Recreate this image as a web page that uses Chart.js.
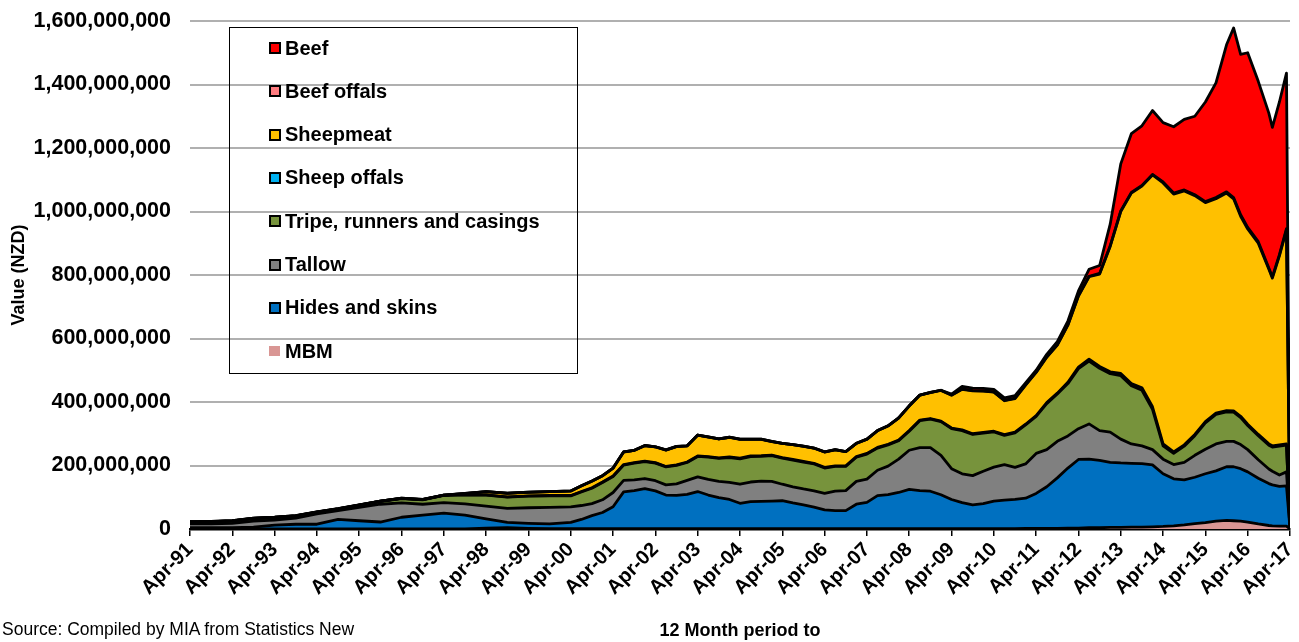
<!DOCTYPE html>
<html>
<head>
<meta charset="utf-8">
<script src="https://cdn.jsdelivr.net/npm/chart.js@4.4.1/dist/chart.umd.min.js"></script>
<style>
html, body { margin: 0; padding: 0; background: #fff; }
#wrap { position: relative; width: 1299px; height: 642px; }
#legend { position: absolute; left: 229px; top: 27px; width: 347px; height: 345px; border: 1px solid #000;
          font: bold 20px "Liberation Sans", Arial, sans-serif; color: #000; }
.item { position: absolute; left: 39px; height: 24px; display: flex; align-items: center; white-space: nowrap; }
.box { width: 8px; height: 8px; border: 2px solid #000; margin-right: 4px; }
#source { position: absolute; left: 2px; top: 619px; font: 17.5px "Liberation Sans", Arial, sans-serif; color: #000; }
</style>
</head>
<body>
<div id="wrap">
  <canvas id="grafico" width="1299" height="642"></canvas>
  <div id="legend"></div>
  <div id="source">Source: Compiled by MIA from Statistics New</div>
</div>
<script>
// months counted from Apr-91 (12 month rolling totals, NZD millions)
const monthsSinceApr91 = [
  0, 6, 12, 18, 24, 30, 36, 42, 48, 54, 60, 66, 72, 78, 84, 90, 96, 102, 108,
  111, 114, 117, 120, 123, 126, 129, 132, 135, 138,
  141, 144, 147, 150, 153, 156, 159, 162, 165, 168,
  171, 174, 177, 180, 183, 186, 189, 192, 195, 198,
  201, 204, 207, 210, 213, 216, 219, 222, 225, 228,
  231, 234, 237, 240, 243, 246, 249, 252, 255, 258,
  261, 264, 267, 270, 273, 276, 279, 282, 285, 288,
  291, 294, 296, 298, 300, 303, 306, 307, 309, 311, 312
];

const yearTicks = ["Apr-91", "Apr-92", "Apr-93", "Apr-94", "Apr-95", "Apr-96", "Apr-97", "Apr-98", "Apr-99",
  "Apr-00", "Apr-01", "Apr-02", "Apr-03", "Apr-04", "Apr-05", "Apr-06", "Apr-07", "Apr-08", "Apr-09",
  "Apr-10", "Apr-11", "Apr-12", "Apr-13", "Apr-14", "Apr-15", "Apr-16", "Apr-17"];

const mbm = [
  0.5, 0.5, 0.5, 0.5, 0.5, 0.5, 0.5, 0.5, 0.5, 0.5, 0.5, 0.5, 0.5, 0.5, 3, 4, 2, 1, 1,
  1, 1, 1, 1, 1, 1, 1, 1, 1, 1,
  1, 1, 1, 1, 1, 1, 1, 1, 1, 1,
  1, 1, 1, 1, 1, 1, 1, 1, 1, 1,
  1, 1, 1, 1, 1, 1, 1, 1, 1, 1,
  1, 1, 1.5, 2, 2, 2, 3, 3, 4, 4,
  5, 5, 6, 6, 7, 8, 10, 13, 17, 20,
  25, 27, 26, 25, 22, 16, 11, 10, 9, 9, 0
];
const hidesSkins = [
  3.5, 3.5, 3.5, 5.5, 11.5, 14.5, 14.5, 29.5, 25.5, 21.5, 36.5, 43.5, 49.5, 43.5, 29, 17, 16, 15, 20,
  29, 41, 51, 69, 116, 120, 126, 119, 106, 105,
  108, 117, 106, 98, 92, 80, 85, 86, 87, 88,
  81, 75, 68, 59, 57, 57, 77, 83, 104, 107,
  114, 124, 120, 118, 107, 92, 82, 75, 79, 87,
  90, 92, 95.5, 110, 131, 159, 189, 216, 216, 212,
  205, 203, 201, 200, 195, 166, 148, 142, 146, 154,
  158, 169, 170, 165, 158, 144, 132, 129, 125, 127, 2
];
const tallow = [
  12, 12, 14, 19, 16, 19, 33, 28, 42, 56, 45, 34, 33, 35, 40, 44, 49, 52, 49,
  44, 38, 40, 45, 36, 34, 32, 32, 32, 36,
  44, 46, 49, 51, 54, 60, 62, 64, 62, 52,
  51, 50, 51, 52, 61, 63, 72, 73, 80, 90,
  105, 123, 135, 137, 124, 97, 91, 92, 102, 107,
  112, 101, 108, 126, 117, 115, 101, 97, 111, 94,
  95, 75, 61, 56, 48, 46, 45, 55, 69, 77,
  85, 80, 80, 76, 70, 58, 46, 43, 36, 44, 1
];
const tripe = [
  5.5, 6.5, 6.5, 7.5, 7.5, 6.5, 4.5, 4.5, 6.5, 8.5, 13.5, 13.5, 22.5, 28.5, 34.5, 35.5, 36.5, 36.5, 34.5,
  42.5, 48.5, 54.5, 50.5, 48.5, 52.5, 53.5, 55.5, 56.5, 58.5,
  56.5, 64.5, 70.5, 72.5, 78, 80, 80, 78, 81, 82,
  84, 85, 85, 80, 78, 76, 76, 79, 70, 67,
  58, 60, 85, 90, 106, 126, 136, 130, 120, 111,
  92, 109, 123, 117, 145, 149, 165, 189, 198, 196,
  184, 200, 183, 175, 127, 42, 35, 51, 62, 83,
  93, 93, 92, 85, 76, 76, 75, 76, 91, 84, 1
];
const sheepOffals = [
  1, 1, 1, 1, 1, 1, 1, 1, 1, 1, 1, 1, 1, 1, 1, 1, 1, 1, 1,
  1.5, 1.5, 1.5, 1.5, 1.5, 1.5, 1.5, 1.5, 1.5, 1.5,
  1.5, 1.5, 1.5, 1.5, 2, 2, 2, 2, 2, 2,
  2, 2, 2, 2, 2, 2, 2, 2, 2, 2,
  2, 2, 2, 2, 2, 2, 2, 2, 2, 2,
  2, 2, 2, 2, 3, 3, 4, 5, 6, 6,
  6, 7, 7, 8, 8, 6, 5, 4, 4, 4,
  4, 4, 4, 4, 4, 4, 4, 4, 4, 4, 0
];
const sheepmeat = [
  0, 0, 0, 0, 0, 0, 0, 0, 0, 0, 0, 0, 0, 3, 10, 11, 11, 12, 14,
  17.5, 20.5, 19.5, 24.5, 39.5, 38.5, 48.5, 49.5, 51.5, 57.5,
  50.5, 65.5, 61.5, 59.5, 61.5, 59.5, 52.5, 51.5, 42.5, 44.5,
  46.5, 47.5, 47.5, 48.5, 50.5, 44.5, 41.5, 44.5, 52.5, 57.5,
  69.5, 77.5, 78.5, 81.5, 96.5, 103.5, 128, 135, 130, 123,
  107, 106, 123, 136, 143, 151, 180, 224, 259.5, 291,
  395, 510, 600, 635, 730, 822, 812, 800, 752, 690,
  675, 685, 668, 630, 615, 602, 550, 528, 595, 674, 2
];
const beefOffals = [
  0.5, 0.5, 0.5, 0.5, 0.5, 0.5, 0.5, 0.5, 0.5, 0.5, 0.5, 0.5, 0.5, 0.5, 0.5, 0.5, 0.5, 0.5, 0.5,
  0.5, 0.5, 0.5, 0.5, 0.5, 0.5, 0.5, 0.5, 0.5, 0.5,
  0.5, 0.5, 0.5, 0.5, 0.5, 0.5, 0.5, 0.5, 0.5, 0.5,
  0.5, 0.5, 0.5, 0.5, 0.5, 0.5, 0.5, 0.5, 0.5, 0.5,
  0.5, 0.5, 0.5, 0.5, 0.5, 0.5, 1, 1, 1, 1,
  1, 1, 1, 1, 1, 1, 1, 1, 1.5, 2,
  2, 2, 2, 2, 2, 3, 3, 3, 3, 3,
  4, 4, 4, 5, 5, 5, 4, 4, 4, 4, 0
];
const beef = [
  0, 0, 0, 0, 0, 0, 0, 0, 0, 0, 0, 0, 0, 0, 0, 0, 0, 0, 0,
  0, 0, 0, 0, 0, 0, 0, 0, 0, 0,
  0, 0, 0, 0, 0, 0, 0, 0, 0, 0,
  0, 0, 0, 0, 0, 0, 0, 0, 0, 0,
  0, 0, 0, 0, 0, 3, 8, 8, 8, 8,
  8, 8, 6, 6, 8, 10, 12, 15, 22, 25,
  68, 148, 185, 188, 201, 187, 209, 222, 247, 314,
  361, 463, 534, 505, 550, 505, 488, 471, 481, 490, 2
];

// bottom of the stack first
const seriesNames = ["MBM", "Hides and skins", "Tallow", "Tripe, runners and casings", "Sheep offals", "Sheepmeat", "Beef offals", "Beef"];
const seriesValues = [mbm, hidesSkins, tallow, tripe, sheepOffals, sheepmeat, beefOffals, beef];
const seriesColours = ["#D99694", "#0070C0", "#808080", "#77933C", "#00B0F0", "#FFC000", "#FF7C80", "#FF0000"];

const fonte = '"Liberation Sans", Arial, sans-serif';

const datasets = seriesNames.map(function (nome, i) {
    return {
        label: nome,
        data: monthsSinceApr91.map(function (m, k) { return { x: m, y: seriesValues[i][k] }; }),
        fill: i === 0 ? 'origin' : '-1',
        backgroundColor: seriesColours[i],
        borderColor: '#000',
        borderWidth: 2.8,
        borderJoinStyle: 'round',
        pointRadius: 0,
        tension: 0
    };
});

const chart = new Chart("grafico", {
    type: "line",
    data: { datasets: datasets },
    options: {
        responsive: false,
        animation: false,
        layout: { padding: { top: 21, right: 9, left: 0, bottom: 0 } },
        plugins: {
            legend: { display: false },
            tooltip: { enabled: false },
            filler: { drawTime: 'beforeDatasetsDraw' }
        },
        scales: {
            x: {
                type: 'linear',
                min: 0,
                max: 312,
                ticks: {
                    stepSize: 12,
                    autoSkip: false,
                    minRotation: 45,
                    maxRotation: 45,
                    padding: 2,
                    color: '#000',
                    font: { family: fonte, size: 20, weight: 'bold' },
                    callback: function (v) { return yearTicks[Math.round(v / 12)]; }
                },
                grid: { drawOnChartArea: false, drawTicks: true, tickLength: 7, color: '#000', lineWidth: 1.5 },
                border: { display: true, color: '#000', width: 2.5 },
                title: {
                    display: true,
                    text: '12 Month period to',
                    color: '#000',
                    font: { family: fonte, size: 18, weight: 'bold' },
                    padding: { top: 4, bottom: 0 }
                },
                afterFit: function (s) {
                    s.height = 113;
                    s.paddingLeft = 0;
                    s.paddingRight = 0;
                }
            },
            y: {
                stacked: true,
                min: 0,
                max: 1600,
                ticks: {
                    stepSize: 200,
                    padding: 19,
                    color: '#000',
                    font: { family: fonte, size: 21.5, weight: 'bold' },
                    callback: function (v) { return (v * 1000000).toLocaleString('en-US'); }
                },
                grid: { color: '#B0B0B0', lineWidth: 2, drawTicks: false },
                border: { display: false },
                title: {
                    display: true,
                    text: 'Value (NZD)',
                    color: '#000',
                    font: { family: fonte, size: 18, weight: 'bold' },
                    padding: { top: 8, bottom: 0 }
                },
                afterFit: function (s) {
                    s.width = 190;
                    s.paddingTop = 0;
                    s.paddingBottom = 0;
                }
            }
        }
    }
});

// legend inside the plot, top item = top of the stack
function montarLegenda() {
    const legenda = document.getElementById("legend");
    const ds = chart.data.datasets;
    for (let j = 0; j < ds.length; j++) {
        const i = ds.length - 1 - j;
        const semBorda = i === 0;
        legenda.innerHTML += `<div class="item" style="top:${(8 + j * 43.3).toFixed(1)}px">
            <span class="box" style="background:${ds[i].backgroundColor};${semBorda ? 'width:11px;height:10px;border-width:0;margin-right:5px' : ''}"></span>${ds[i].label}</div>`;
    }
}
montarLegenda();
</script>
</body>
</html>
